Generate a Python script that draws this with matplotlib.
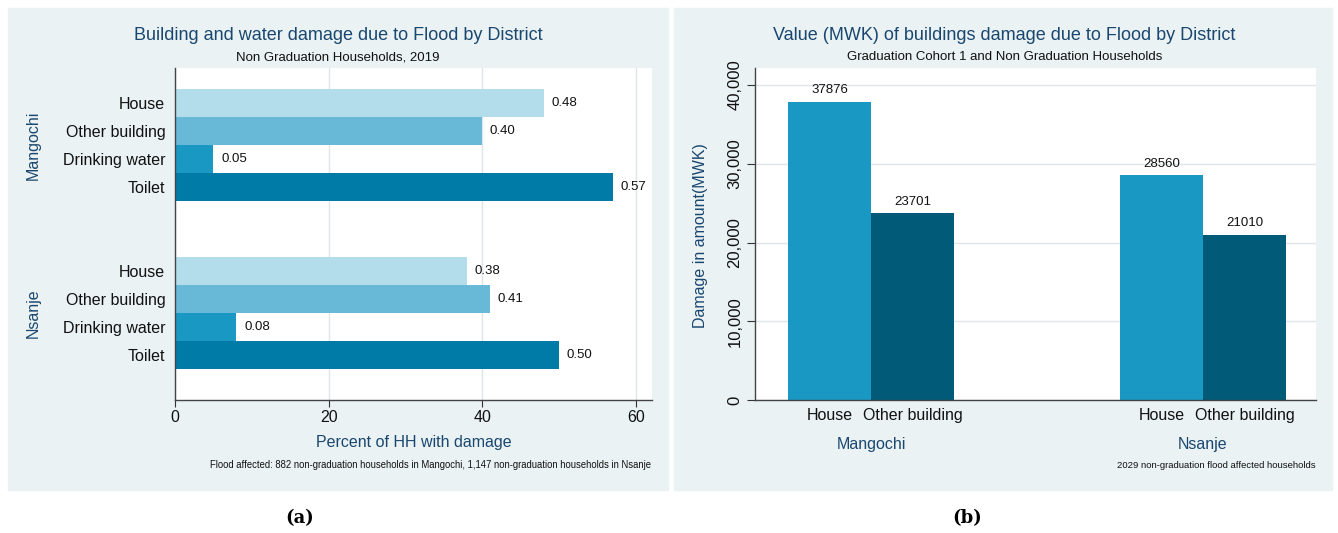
import numpy as np
import matplotlib
matplotlib.use("Agg")
from matplotlib import pyplot as plt
from matplotlib.patches import Rectangle

plt.rcParams['font.family'] = ['Liberation Sans', 'DejaVu Sans']

# panel (a) data: share of households with damage
damage_items = ['House', 'Other building', 'Drinking water', 'Toilet']
mangochi_share = [0.48, 0.40, 0.05, 0.57]
nsanje_share = [0.38, 0.41, 0.08, 0.50]
districts = ['Mangochi', 'Nsanje']

# panel (b) data: value of building damage (MWK)
building_items = ['House', 'Other building']
mangochi_value = [37876, 23701]
nsanje_value = [28560, 21010]
value_ticks = [0, 10000, 20000, 30000, 40000]
value_ticklabels = ['0', '10,000', '20,000', '30,000', '40,000']

W, H = 1338, 533
BG = '#eaf2f3'
NAVY = '#1a476f'
GRID = '#dde6ea'
shares_colors = ['#b3ddea', '#68b9d8', '#1a98c4', '#007ba8']
value_colors = ['#1a98c4', '#005a78']


def box(x0, y0, x1, y1):
    # pixel box (top-left origin) -> figure fraction rect
    return [x0 / W, 1 - y1 / H, (x1 - x0) / W, (y1 - y0) / H]


def ftext(fig, x, y, s, **kw):
    fig.text(x / W, 1 - y / H, s, **kw)


fig = plt.figure(figsize=(W / 100, H / 100), dpi=100)
fig.patches.append(Rectangle((8 / W, 1 - 490 / H), 660 / W, 482 / H,
                             transform=fig.transFigure, color=BG, zorder=-10))
fig.patches.append(Rectangle((674 / W, 1 - 490 / H), 658 / W, 482 / H,
                             transform=fig.transFigure, color=BG, zorder=-10))

# ---------------- panel (a)
ax1 = fig.add_axes(box(175, 68, 652, 400))
ypos_m = np.arange(4)
ypos_n = np.arange(4) + 6
for i in range(4):
    ax1.barh(ypos_m[i], mangochi_share[i] * 100, height=1.0, color=shares_colors[i], zorder=2)
    ax1.barh(ypos_n[i], nsanje_share[i] * 100, height=1.0, color=shares_colors[i], zorder=2)
    ax1.text(mangochi_share[i] * 100 + 1.0, ypos_m[i], '%.2f' % mangochi_share[i],
             va='center', ha='left', fontsize=9.5, color='#111111')
    ax1.text(nsanje_share[i] * 100 + 1.0, ypos_n[i], '%.2f' % nsanje_share[i],
             va='center', ha='left', fontsize=9.5, color='#111111')
ax1.set_ylim(10.6, -1.25)
ax1.set_xlim(0, 62.1)
ax1.set_yticks(list(ypos_m) + list(ypos_n))
ax1.set_yticklabels(damage_items + damage_items, fontsize=11.5, color='#111111')
ax1.tick_params(axis='y', length=0, pad=7)
ax1.set_xticks([0, 20, 40, 60])
ax1.tick_params(axis='x', length=5, width=0.8, labelsize=11.5, colors='#333333',
                labelcolor='#111111', pad=2)
ax1.grid(axis='x', color=GRID, linewidth=1, zorder=0)
ax1.set_axisbelow(True)
for s in ['top', 'right']:
    ax1.spines[s].set_visible(False)
for s in ['left', 'bottom']:
    ax1.spines[s].set_color('#444444')
    ax1.spines[s].set_linewidth(1)

ftext(fig, 338, 36, 'Building and water damage due to Flood by District',
      ha='center', va='center', fontsize=13, color=NAVY)
ftext(fig, 338, 57, 'Non Graduation Households, 2019', ha='center', va='center', fontsize=9.5, color='#111111')
ftext(fig, 414, 443, 'Percent of HH with damage', ha='center', va='center', fontsize=11.5, color=NAVY)
ftext(fig, 651, 465, 'Flood affected: 882 non-graduation households in Mangochi, 1,147 non-graduation households in Nsanje',
      ha='right', va='center', fontsize=6.85, color='#111111')
ftext(fig, 33, 145, districts[0], ha='center', va='center', rotation=90, fontsize=11.5, color=NAVY)
ftext(fig, 33, 313, districts[1], ha='center', va='center', rotation=90, fontsize=11.5, color=NAVY)

# ---------------- panel (b)
ax2 = fig.add_axes(box(755, 68, 1316, 400))
centers = [20.7, 79.9]
bw = 14.8
offs = [-bw / 2, bw / 2]
group_vals = [mangochi_value, nsanje_value]
xt, xtl = [], []
for g in range(2):
    for j in range(2):
        x = centers[g] + offs[j]
        v = group_vals[g][j]
        ax2.bar(x, v, width=bw, color=value_colors[j], zorder=2)
        ax2.text(x, v + 700, str(v), ha='center', va='bottom', fontsize=9.5, color='#111111')
        xt.append(x)
        xtl.append(building_items[j])
ax2.set_xlim(0, 100)
ax2.set_ylim(0, 42160)
ax2.set_xticks(xt)
ax2.set_xticklabels(xtl, fontsize=11.5, color='#111111')
ax2.tick_params(axis='x', length=0, pad=6)
ax2.set_yticks(value_ticks)
ax2.set_yticklabels(value_ticklabels, rotation=90, va='center', fontsize=12, color='#111111')
ax2.tick_params(axis='y', length=6, width=0.8, colors='#333333', labelcolor='#111111', pad=3)
ax2.grid(axis='y', color=GRID, linewidth=1, zorder=0)
ax2.set_axisbelow(True)
for s in ['top', 'right']:
    ax2.spines[s].set_visible(False)
for s in ['left', 'bottom']:
    ax2.spines[s].set_color('#444444')
    ax2.spines[s].set_linewidth(1)

ftext(fig, 1004, 36, 'Value (MWK) of buildings damage due to Flood by District',
      ha='center', va='center', fontsize=13, color=NAVY)
ftext(fig, 1005, 57, 'Graduation Cohort 1 and Non Graduation Households', ha='center', va='center', fontsize=9.5, color='#111111')
ftext(fig, 701, 236, 'Damage in amount(MWK)', ha='center', va='center', rotation=90, fontsize=11.5, color=NAVY)
ftext(fig, 871, 445, districts[0], ha='center', va='center', fontsize=11.5, color=NAVY)
ftext(fig, 1203, 445, districts[1], ha='center', va='center', fontsize=11.5, color=NAVY)
ftext(fig, 1316, 465, '2029 non-graduation flood affected households', ha='right', va='center', fontsize=6.8, color='#111111')

# captions
ftext(fig, 300, 518, '(a)', ha='center', va='center', fontsize=13, fontweight='bold', family='DejaVu Serif')
ftext(fig, 967, 518, '(b)', ha='center', va='center', fontsize=13, fontweight='bold', family='DejaVu Serif')

fig.savefig('out.png', dpi=100, facecolor='white')
